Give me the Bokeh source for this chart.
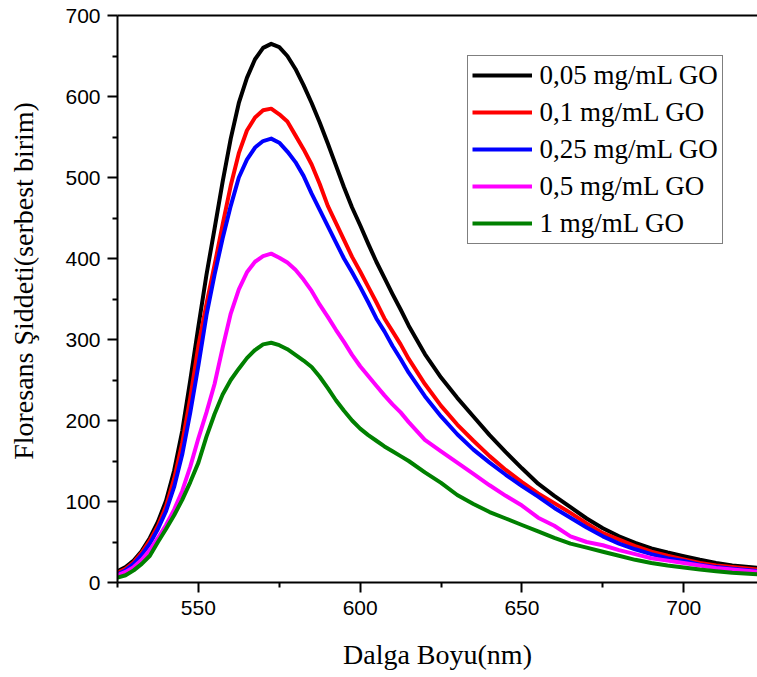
import math
from bokeh.plotting import figure
from bokeh.layouts import row
from bokeh.models import Range1d, FixedTicker, Legend, LegendItem, LinearAxis, Label
from bokeh.embed import file_html
from bokeh.resources import INLINE

wavelength = [525, 527.5, 530, 532.5, 535, 537.5, 540, 542.5, 545, 547.5,
              550, 552.5, 555, 557.5, 560, 562.5, 565, 567.5, 570, 572.5,
              575, 577.5, 580, 582.5, 585, 587.5, 590, 592.5, 595, 597.5,
              600, 602.5, 605, 607.5, 610, 612.5, 615,
              620, 625, 630, 635, 640, 645, 650, 655, 660, 665,
              670, 675, 680, 685, 690, 695, 700, 705, 710, 715, 723]

go_005 = [14, 19, 27, 39, 55, 75, 101, 138, 187, 250,
          316, 380, 437, 495, 548, 592, 623, 646, 660, 665,
          661, 650, 634, 614, 592, 568, 542, 515, 488, 463,
          441, 418, 396, 376, 356, 337, 317,
          282, 253, 228, 205, 182, 161, 141, 122, 107, 93,
          79, 67, 57, 49, 42, 37, 32.5, 28, 24, 21, 18]

go_01 = [12, 17, 25, 37, 52, 70, 94, 128, 172, 228,
         292, 344, 392, 442, 490, 530, 558, 574, 583, 585,
         578, 569, 552, 535, 516, 492, 465, 444, 423, 402,
         384, 365, 346, 326, 310, 294, 276,
         245, 218, 195, 175, 156, 139, 124, 110, 98, 86,
         73, 61, 53, 45, 38, 33, 28.6, 24, 21, 19, 16]

go_025 = [10, 15, 23, 34, 48, 66, 88, 118, 158, 210,
          268, 330, 380, 425, 465, 500, 522, 537, 545, 548,
          543, 532, 519, 502, 480, 460, 440, 420, 400, 383,
          365, 346, 326, 310, 292, 276, 259,
          230, 205, 183, 164, 148, 133, 119, 106, 92, 80,
          68, 57, 48, 41, 35, 30, 26.5, 22, 19, 17, 14]

go_05 = [9, 13, 19, 28, 40, 55, 71, 90, 113, 143,
         178, 210, 245, 290, 332, 362, 383, 396, 403, 406,
         401, 395, 386, 374, 360, 343, 328, 312, 297, 281,
         267, 255, 243, 231, 220, 210, 198,
         176, 162, 148, 134, 120, 107, 95, 80, 70, 57,
         50, 46, 40, 35, 30, 27, 24, 21, 18, 16, 13]

go_1 = [6, 9, 15, 23, 33, 50, 66, 83, 102, 124,
        148, 180, 208, 232, 250, 264, 277, 287, 294, 296,
        293, 288, 281, 274, 266, 254, 240, 225, 212, 200,
        190, 182, 175, 168, 162, 156, 150,
        136, 123, 108, 97, 87, 79, 71, 63, 55, 48,
        43, 38, 33, 28, 24, 21, 18.5, 16, 14, 12, 10]

series_labels = ["0,05 mg/mL GO", "0,1 mg/mL GO", "0,25 mg/mL GO",
                 "0,5 mg/mL GO", "1 mg/mL GO"]
series_colors = ["#000000", "#ff0000", "#0000ff", "#ff00ff", "#008000"]
series_values = [go_005, go_01, go_025, go_05, go_1]

x_major = [550, 600, 650, 700]
x_minor = [525, 575, 625, 675, 725]
y_major = [0, 100, 200, 300, 400, 500, 600, 700]
y_minor = [50, 150, 250, 350, 450, 550, 650]

y_title = "Floresans Şiddeti(serbest birim)"
x_title = "Dalga Boyu(nm)"

# narrow strip on the left that carries the y-axis title
lf = figure(width=60, height=677, x_range=Range1d(0, 1), y_range=Range1d(0, 1),
            output_backend="svg", toolbar_location=None,
            x_axis_location=None, y_axis_location=None, min_border=0)
lf.outline_line_color = None
lf.grid.visible = False
lf.background_fill_color = "white"
lf.border_fill_color = "white"
lf.add_layout(Label(x=23, y=301.5, x_units="screen", y_units="screen",
                    text=y_title, angle=math.pi / 2,
                    text_align="center", text_baseline="alphabetic",
                    text_font="Liberation Serif", text_font_size="28px",
                    text_color="black"))

p = figure(width=697, height=677,
           x_range=Range1d(525, 722.8), y_range=Range1d(0, 700),
           output_backend="svg", toolbar_location=None,
           min_border_left=57, min_border_right=0,
           min_border_top=15, min_border_bottom=95)
p.background_fill_color = "white"
p.border_fill_color = "white"
p.outline_line_color = None
p.xgrid.visible = False
p.ygrid.visible = False

items = []
for lab, col, vals in zip(series_labels, series_colors, series_values):
    r = p.line(wavelength, vals, line_color=col, line_width=4, line_join="round")
    items.append(LegendItem(label=lab, renderers=[r]))

for ax in (p.xaxis[0], p.yaxis[0]):
    ax.axis_line_width = 2
    ax.axis_line_color = "black"
    ax.major_tick_line_width = 2
    ax.minor_tick_line_width = 2
    ax.major_tick_in = 0
    ax.major_tick_out = 10
    ax.minor_tick_in = 0
    ax.minor_tick_out = 5
    ax.major_label_text_font = "Liberation Sans"
    ax.major_label_text_font_size = "21px"
    ax.major_label_text_color = "black"

p.xaxis[0].ticker = FixedTicker(ticks=x_major, minor_ticks=x_minor)
p.yaxis[0].ticker = FixedTicker(ticks=y_major, minor_ticks=y_minor)
p.xaxis[0].major_label_standoff = 8
p.yaxis[0].major_label_standoff = 7

p.xaxis[0].axis_label = x_title
p.xaxis[0].axis_label_text_font = "Liberation Serif"
p.xaxis[0].axis_label_text_font_size = "28px"
p.xaxis[0].axis_label_text_font_style = "normal"
p.xaxis[0].axis_label_text_color = "black"
p.xaxis[0].axis_label_standoff = 21

top_axis = LinearAxis(ticker=FixedTicker(ticks=[]), axis_line_width=2,
                      major_tick_line_color=None, minor_tick_line_color=None,
                      major_label_text_font_size="0px")
p.add_layout(top_axis, "above")

legend = Legend(items=items, location=(349.5, 338.5),
                label_text_font="Liberation Serif", label_text_font_size="27px",
                label_text_color="black",
                glyph_width=60, glyph_height=20, label_standoff=8,
                padding=4, spacing=6, margin=0,
                border_line_color="black", border_line_width=1,
                background_fill_color="white", background_fill_alpha=1.0)
p.add_layout(legend)

layout = row(lf, p, spacing=0)
open("out.html", "w").write(file_html(layout, INLINE))
